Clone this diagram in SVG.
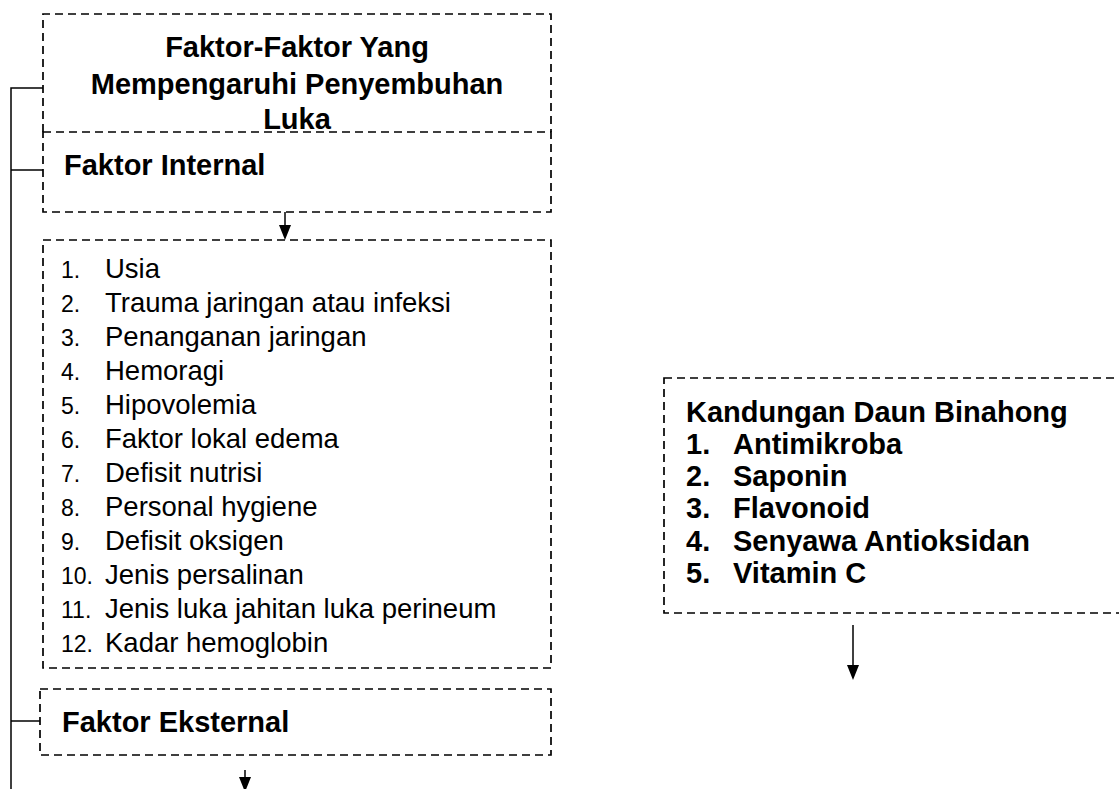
<svg xmlns="http://www.w3.org/2000/svg" width="1119" height="789" viewBox="0 0 1119 789">
<style>
.box{fill:none;stroke:#000;stroke-width:1.7;stroke-dasharray:8,5}
.ln{fill:none;stroke:#000;stroke-width:1.5}
.b{font-family:"Liberation Sans",Arial,sans-serif;font-weight:bold;font-size:29px;fill:#000}
.r{font-family:"Liberation Sans",Arial,sans-serif;font-size:27.5px;fill:#000}
.n{font-family:"Liberation Sans",Arial,sans-serif;font-size:23px;fill:#000}
.ah{fill:#000}
</style>
<rect width="1119" height="789" fill="#fff"/>
<g id="connectors">
<path class="ln" d="M11,789 V88 H43"/>
<path class="ln" d="M11,170 H43"/>
<path class="ln" d="M11,721 H40"/>
<path class="ln" d="M285,212 V226"/>
<path class="ah" d="M279,225 L291,225 L285,240 Z"/>
<path class="ln" d="M245,770 V778"/>
<path class="ah" d="M239,777 L251,777 L245,792 Z"/>
<path class="ln" d="M853,625 V666"/>
<path class="ah" d="M847,665 L859,665 L853,680 Z"/>
</g>
<g id="title">
<path class="box" d="M43,132 V14 H551 V132"/>
<text class="b" x="297" y="57" text-anchor="middle">Faktor-Faktor Yang</text>
<text class="b" x="297" y="94" text-anchor="middle">Mempengaruhi Penyembuhan</text>
<text class="b" x="297" y="129" text-anchor="middle">Luka</text>
</g>
<g id="internal">
<rect class="box" x="43" y="132" width="508" height="80"/>
<text class="b" x="64" y="175">Faktor Internal</text>
</g>
<g id="list">
<rect class="box" x="43" y="240" width="508" height="428"/>
<g class="n">
<text x="61" y="278">1.</text>
<text x="61" y="312">2.</text>
<text x="61" y="346">3.</text>
<text x="61" y="380">4.</text>
<text x="61" y="414">5.</text>
<text x="61" y="448">6.</text>
<text x="61" y="482">7.</text>
<text x="61" y="516">8.</text>
<text x="61" y="550">9.</text>
<text x="61" y="584">10.</text>
<text x="61" y="618">11.</text>
<text x="61" y="652">12.</text>
</g>
<g class="r">
<text x="105" y="278">Usia</text>
<text x="105" y="312">Trauma jaringan atau infeksi</text>
<text x="105" y="346">Penanganan jaringan</text>
<text x="105" y="380">Hemoragi</text>
<text x="105" y="414">Hipovolemia</text>
<text x="105" y="448">Faktor lokal edema</text>
<text x="105" y="482">Defisit nutrisi</text>
<text x="105" y="516">Personal hygiene</text>
<text x="105" y="550">Defisit oksigen</text>
<text x="105" y="584">Jenis persalinan</text>
<text x="105" y="618">Jenis luka jahitan luka perineum</text>
<text x="105" y="652">Kadar hemoglobin</text>
</g>
</g>
<g id="eksternal">
<rect class="box" x="40" y="689" width="511" height="66"/>
<text class="b" x="62" y="732">Faktor Eksternal</text>
</g>
<g id="binahong">
<rect class="box" x="664" y="378" width="470" height="235"/>
<g class="b">
<text x="686" y="422">Kandungan Daun Binahong</text>
<text x="686" y="454">1.</text><text x="733" y="454">Antimikroba</text>
<text x="686" y="486">2.</text><text x="733" y="486">Saponin</text>
<text x="686" y="518">3.</text><text x="733" y="518">Flavonoid</text>
<text x="686" y="551">4.</text><text x="733" y="551">Senyawa Antioksidan</text>
<text x="686" y="583">5.</text><text x="733" y="583">Vitamin C</text>
</g>
</g>
</svg>
